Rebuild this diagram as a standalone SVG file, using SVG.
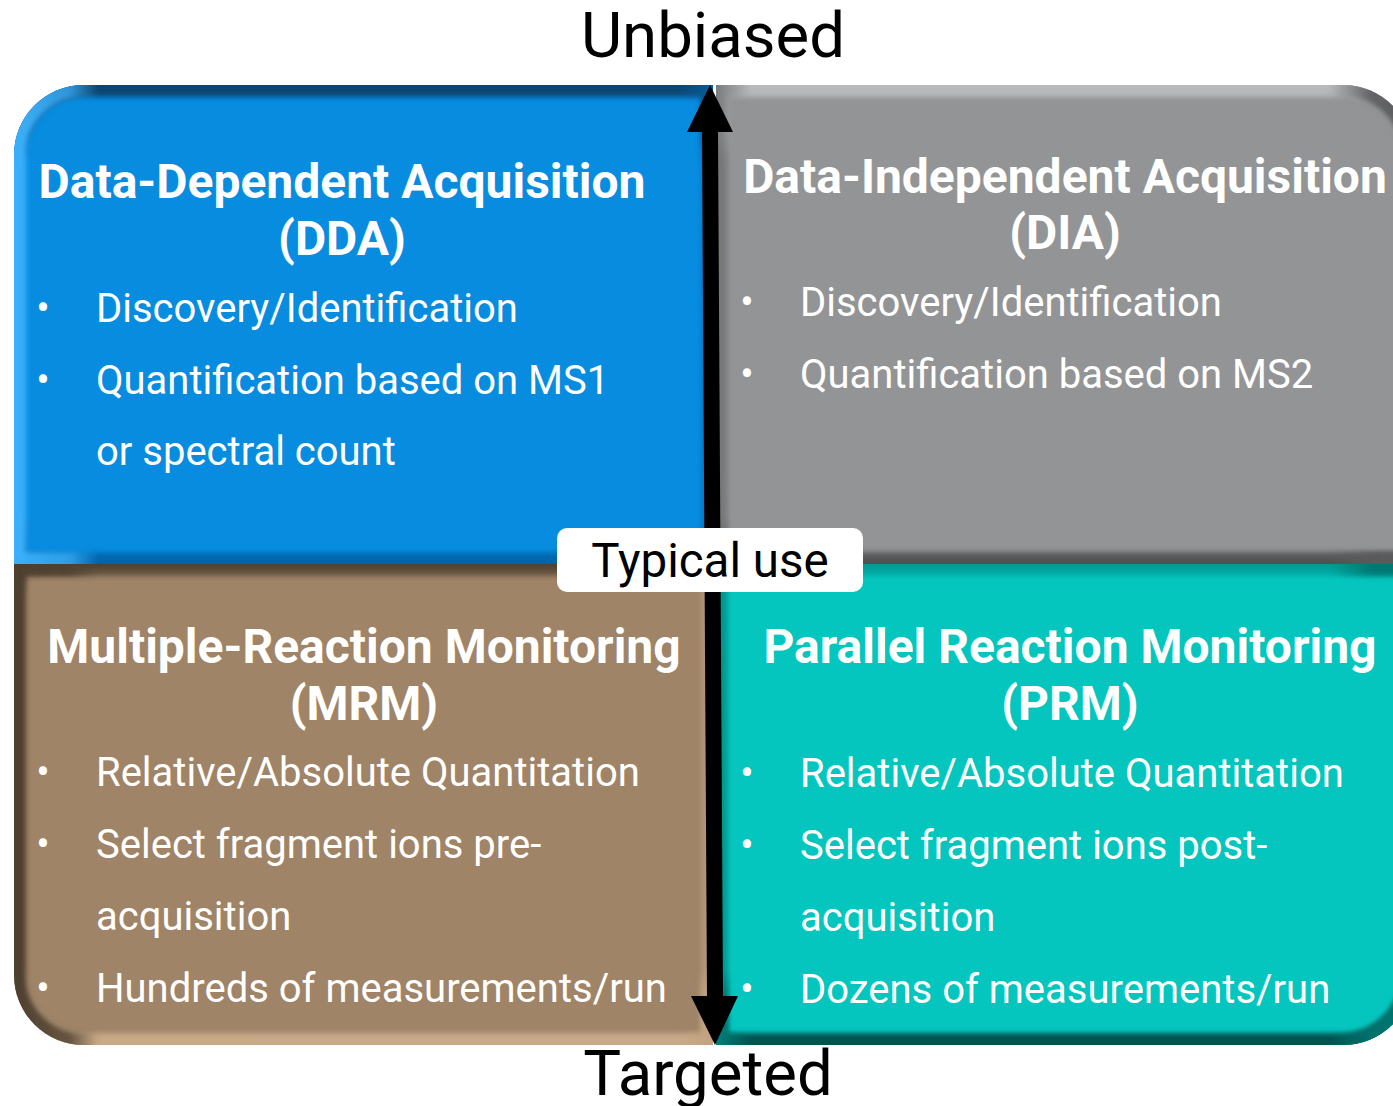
<svg xmlns="http://www.w3.org/2000/svg" width="1393" height="1106" viewBox="0 0 1393 1106">
<style>
.title{font-family:Roboto,"Liberation Sans",sans-serif;font-weight:bold;font-size:48px;fill:#fff;text-anchor:middle}
.item{font-family:Roboto,"Liberation Sans",sans-serif;font-size:40px;fill:#fff}
.dot{font-family:Roboto,"Liberation Sans",sans-serif;font-size:40px;fill:#fff;text-anchor:middle}
.axis{font-family:Roboto,"Liberation Sans",sans-serif;font-size:63.5px;fill:#000;text-anchor:middle}
.band{fill:none;stroke-width:24;filter:url(#soft)}
</style>
<defs>
<filter id="soft" x="-5%" y="-5%" width="110%" height="110%"><feGaussianBlur stdDeviation="2.5"/></filter>
<path id="pDDA" d="M14,564 L14,155 A70,70 0 0 1 84,85 L713,85 L713,564 Z"/>
<path id="pDIA" d="M716,85 L1343,85 A70,70 0 0 1 1413,155 L1413,564 L716,564 Z"/>
<path id="pMRM" d="M14,564 L713,564 L713,1045 L84,1045 A70,70 0 0 1 14,975 Z"/>
<path id="pPRM" d="M716,564 L1413,564 L1413,975 A70,70 0 0 1 1343,1045 L716,1045 Z"/>
<clipPath id="cDDA"><use href="#pDDA"/></clipPath>
<clipPath id="cDIA"><use href="#pDIA"/></clipPath>
<clipPath id="cMRM"><use href="#pMRM"/></clipPath>
<clipPath id="cPRM"><use href="#pPRM"/></clipPath>
<linearGradient id="vDDA" x1="0" y1="0" x2="0" y2="1"><stop offset="0" stop-color="#0A4470"/><stop offset="0.1" stop-color="#0A4470" stop-opacity="0.85"/><stop offset="0.16" stop-color="#0A4470" stop-opacity="0"/><stop offset="0.9" stop-color="#0563A8" stop-opacity="0"/><stop offset="1" stop-color="#0563A8"/></linearGradient>
<linearGradient id="hDDA" x1="0" y1="0" x2="1" y2="0"><stop offset="0" stop-color="#3BB0FA"/><stop offset="0.08" stop-color="#3BB0FA" stop-opacity="0.75"/><stop offset="0.12" stop-color="#3BB0FA" stop-opacity="0"/><stop offset="0.95" stop-color="#0868AD" stop-opacity="0"/><stop offset="1" stop-color="#0868AD" stop-opacity="0.7"/></linearGradient>
<linearGradient id="vDIA" x1="0" y1="0" x2="0" y2="1"><stop offset="0" stop-color="#B8B9BB"/><stop offset="0.1" stop-color="#B8B9BB" stop-opacity="0.85"/><stop offset="0.16" stop-color="#B8B9BB" stop-opacity="0"/><stop offset="0.9" stop-color="#4E4F50" stop-opacity="0"/><stop offset="1" stop-color="#4E4F50"/></linearGradient>
<linearGradient id="hDIA" x1="0" y1="0" x2="1" y2="0"><stop offset="0" stop-color="#6A6B6D" stop-opacity="0.8"/><stop offset="0.05" stop-color="#6A6B6D" stop-opacity="0"/><stop offset="0.88" stop-color="#5A5B5D" stop-opacity="0"/><stop offset="0.94" stop-color="#5A5B5D" stop-opacity="0.9"/><stop offset="1" stop-color="#5A5B5D"/></linearGradient>
<linearGradient id="vMRM" x1="0" y1="0" x2="0" y2="1"><stop offset="0" stop-color="#4E3F2F"/><stop offset="0.06" stop-color="#4E3F2F" stop-opacity="0"/><stop offset="0.84" stop-color="#C9AA88" stop-opacity="0"/><stop offset="0.9" stop-color="#C9AA88" stop-opacity="0.8"/><stop offset="1" stop-color="#C9AA88"/></linearGradient>
<linearGradient id="hMRM" x1="0" y1="0" x2="1" y2="0"><stop offset="0" stop-color="#4E3F2F"/><stop offset="0.08" stop-color="#4E3F2F" stop-opacity="0.8"/><stop offset="0.12" stop-color="#4E3F2F" stop-opacity="0"/><stop offset="0.95" stop-color="#BFA080" stop-opacity="0"/><stop offset="1" stop-color="#BFA080" stop-opacity="0.8"/></linearGradient>
<linearGradient id="vPRM" x1="0" y1="0" x2="0" y2="1"><stop offset="0" stop-color="#048E88" stop-opacity="0.8"/><stop offset="0.05" stop-color="#048E88" stop-opacity="0"/><stop offset="0.84" stop-color="#03524E" stop-opacity="0"/><stop offset="0.9" stop-color="#03524E" stop-opacity="0.9"/><stop offset="1" stop-color="#03524E"/></linearGradient>
<linearGradient id="hPRM" x1="0" y1="0" x2="1" y2="0"><stop offset="0" stop-color="#038580" stop-opacity="0.9"/><stop offset="0.05" stop-color="#038580" stop-opacity="0"/><stop offset="0.88" stop-color="#037570" stop-opacity="0"/><stop offset="0.94" stop-color="#037570" stop-opacity="0.9"/><stop offset="1" stop-color="#037570"/></linearGradient>
</defs>
<rect width="1393" height="1106" fill="#fff"/>

<g id="node-dda">
<use href="#pDDA" fill="#078CE0"/>
<g clip-path="url(#cDDA)"><use href="#pDDA" class="band" stroke="url(#vDDA)"/><use href="#pDDA" class="band" stroke="url(#hDDA)"/></g>
<text class="title" x="342" y="198">Data-Dependent Acquisition</text>
<text class="title" x="342" y="255">(DDA)</text>
<text class="dot" x="43" y="322">•</text><text class="item" x="96" y="322">Discovery/Identification</text>
<text class="dot" x="43" y="394">•</text><text class="item" x="96" y="394">Quantification based on MS1</text>
<text class="item" x="96" y="465">or spectral count</text>
</g>

<g id="node-dia">
<use href="#pDIA" fill="#939496"/>
<g clip-path="url(#cDIA)"><use href="#pDIA" class="band" stroke="url(#vDIA)"/><use href="#pDIA" class="band" stroke="url(#hDIA)"/></g>
<text class="title" x="1065" y="193">Data-Independent Acquisition</text>
<text class="title" x="1065" y="249">(DIA)</text>
<text class="dot" x="747" y="316">•</text><text class="item" x="800" y="316">Discovery/Identification</text>
<text class="dot" x="747" y="388">•</text><text class="item" x="800" y="388">Quantification based on MS2</text>
</g>

<g id="node-mrm">
<use href="#pMRM" fill="#9F8467"/>
<g clip-path="url(#cMRM)"><use href="#pMRM" class="band" stroke="url(#vMRM)"/><use href="#pMRM" class="band" stroke="url(#hMRM)"/></g>
<text class="title" x="364" y="663">Multiple-Reaction Monitoring</text>
<text class="title" x="364" y="720">(MRM)</text>
<text class="dot" x="43" y="786">•</text><text class="item" x="96" y="786">Relative/Absolute Quantitation</text>
<text class="dot" x="43" y="858">•</text><text class="item" x="96" y="858">Select fragment ions pre-</text>
<text class="item" x="96" y="930">acquisition</text>
<text class="dot" x="43" y="1002">•</text><text class="item" x="96" y="1002">Hundreds of measurements/run</text>
</g>

<g id="node-prm">
<use href="#pPRM" fill="#05C6BE"/>
<g clip-path="url(#cPRM)"><use href="#pPRM" class="band" stroke="url(#vPRM)"/><use href="#pPRM" class="band" stroke="url(#hPRM)"/></g>
<text class="title" x="1070" y="663">Parallel Reaction Monitoring</text>
<text class="title" x="1070" y="720">(PRM)</text>
<text class="dot" x="747" y="787">•</text><text class="item" x="800" y="787">Relative/Absolute Quantitation</text>
<text class="dot" x="747" y="859">•</text><text class="item" x="800" y="859">Select fragment ions post-</text>
<text class="item" x="800" y="931">acquisition</text>
<text class="dot" x="747" y="1003">•</text><text class="item" x="800" y="1003">Dozens of measurements/run</text>
</g>

<g id="connectors">
<polygon points="710,85 733,132 718,132 723,996 738,996 715,1045 691,996 707,996 702,132 687,132" fill="#000"/>
</g>

<g id="node-typical">
<rect x="557" y="528" width="306" height="64" rx="10" fill="#fff"/>
<text x="710" y="577" font-family="Roboto,'Liberation Sans',sans-serif" font-size="47.5" fill="#000" text-anchor="middle">Typical use</text>
</g>

<g id="labels">
<text class="axis" x="713" y="57">Unbiased</text>
<text class="axis" x="708" y="1095">Targeted</text>
</g>
</svg>
